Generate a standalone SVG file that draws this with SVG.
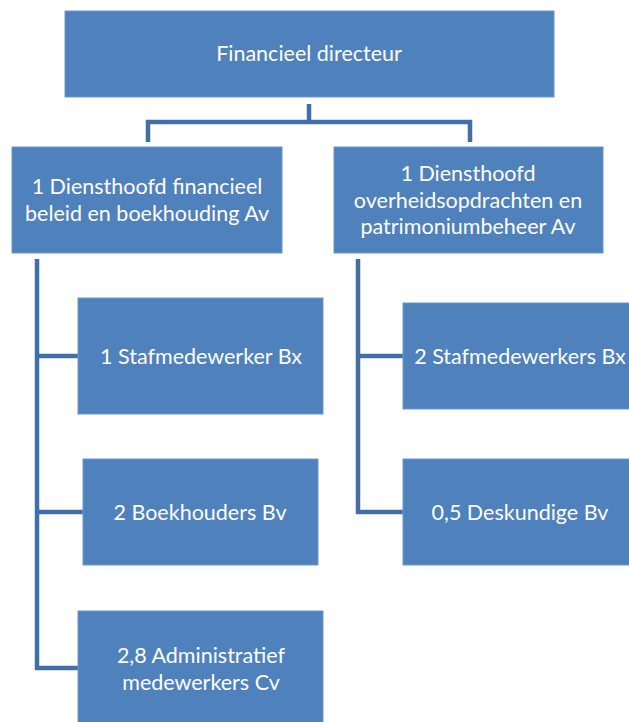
<svg xmlns="http://www.w3.org/2000/svg" width="629" height="722" viewBox="0 0 629 722">
<style>
.box{fill:#4F81BD;stroke:#6E96C8;stroke-width:1}
.t{font-family:Lato,"Liberation Sans",sans-serif;font-size:21.5px;fill:#FFFFFF;text-anchor:middle}
.ln{fill:none;stroke:#426FA6;stroke-width:4.5;stroke-linejoin:miter}
</style>
<rect width="629" height="722" fill="#FFFFFF"/>
<g id="connectors">
<path class="ln" d="M309,104 V122 M148,142 V122 H470 V142"/>
<path class="ln" d="M37,259 V668 H78 M37,356 H78 M37,512 H83"/>
<path class="ln" d="M358,259 V512 H403 M358,356 H403"/>
</g>
<g id="n1"><rect class="box" x="65" y="11" width="489" height="86"/><text class="t" x="309" y="61">Financieel directeur</text></g>
<g id="n2"><rect class="box" x="12" y="147" width="270" height="106"/><text class="t" x="147" y="194">1 Diensthoofd financieel</text><text class="t" x="147" y="221">beleid en boekhouding Av</text></g>
<g id="n3"><rect class="box" x="334" y="147" width="269" height="106"/><text class="t" x="468" y="181">1 Diensthoofd</text><text class="t" x="468" y="208">overheidsopdrachten en</text><text class="t" x="468" y="234">patrimoniumbeheer Av</text></g>
<g id="n4"><rect class="box" x="78" y="298" width="245" height="116"/><text class="t" x="201" y="364">1 Stafmedewerker Bx</text></g>
<g id="n5"><rect class="box" x="83" y="459" width="235" height="106"/><text class="t" x="200" y="520">2 Boekhouders Bv</text></g>
<g id="n6"><rect class="box" x="78" y="611" width="245" height="120"/><text class="t" x="201" y="663">2,8 Administratief</text><text class="t" x="201" y="690">medewerkers Cv</text></g>
<g id="n7"><rect class="box" x="403" y="303" width="235" height="106"/><text class="t" x="520" y="364">2 Stafmedewerkers Bx</text></g>
<g id="n8"><rect class="box" x="403" y="459" width="235" height="106"/><text class="t" x="520" y="520">0,5 Deskundige Bv</text></g>
</svg>
